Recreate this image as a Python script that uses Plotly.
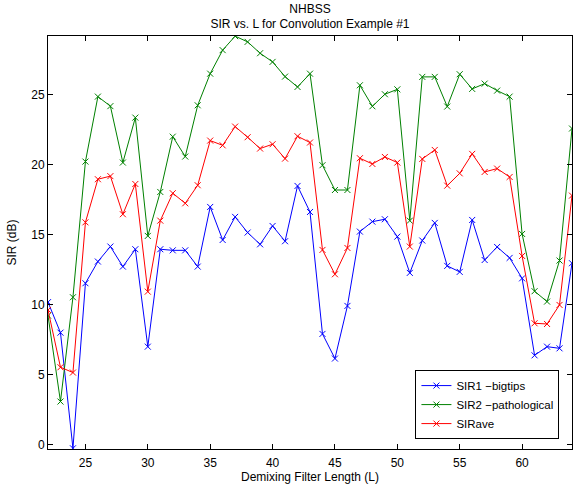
import plotly.graph_objects as go

L = list(range(22, 65))
sir1 = [10.2, 8.02, -0.24, 11.55, 13.1, 14.17, 12.74, 13.98, 7.02, 13.98, 13.9,
        13.9, 12.74, 17.0, 14.64, 16.29, 15.17, 14.33, 15.64, 14.55, 18.5, 16.64,
        7.93, 6.17, 9.93, 15.24, 15.95, 16.12, 14.88, 12.29, 14.6, 15.86,
        12.79, 12.36, 16.07, 13.21, 14.14, 13.36, 11.9, 6.4, 7.02, 6.9, 12.98]
sir2 = [9.24, 3.1, 10.55, 20.24, 24.88, 24.2, 20.17, 23.38, 14.93, 18.07, 22.02,
        20.6, 24.26, 26.52, 28.2, 29.2, 28.79, 27.98, 27.36, 26.31, 25.57, 26.52,
        19.98, 18.21, 18.21, 25.69, 24.19, 25.05, 25.4, 16.02, 26.29, 26.29,
        24.17, 26.48, 25.43, 25.81, 25.31, 24.88, 15.07, 10.98, 10.24, 13.17, 22.6]
sirave = [9.64, 5.55, 5.17, 15.9, 18.98, 19.2, 16.48, 18.64, 10.95, 16.02, 17.98,
          17.26, 18.55, 21.74, 21.4, 22.74, 21.98, 21.17, 21.48, 20.45, 22.05, 21.6,
          13.93, 12.19, 14.07, 20.48, 20.07, 20.57, 20.17, 14.17, 20.43, 21.07,
          18.52, 19.4, 20.79, 19.5, 19.74, 19.14, 13.5, 8.69, 8.64, 10.0, 17.81]

names = ["SIR1 \u2212bigtips", "SIR2 \u2212pathological", "SIRave"]
colors = ["#0000ff", "#008000", "#ff0000"]
xticks = [25, 30, 35, 40, 45, 50, 55, 60]
yticks = [0, 5, 10, 15, 20, 25]

FONT = "Liberation Sans, Arial, Helvetica, sans-serif"

fig = go.Figure()
for y, n, c in zip([sir1, sir2, sirave], names, colors):
    fig.add_trace(go.Scatter(
        x=L, y=y, name=n, mode="lines+markers",
        line=dict(color=c, width=1),
        marker=dict(symbol="x-thin-open", size=6, line=dict(color=c, width=1), color=c),
    ))

axis_common = dict(
    showgrid=False, zeroline=False, showline=True, linecolor="black", linewidth=1,
    mirror="ticks", ticks="inside", ticklen=5, tickcolor="black", tickwidth=1,
    automargin=False,
    tickfont=dict(family=FONT, size=12, color="black"),
)

fig.update_layout(
    width=588, height=485,
    margin=dict(l=48, r=16, t=36, b=36),
    paper_bgcolor="white", plot_bgcolor="white",
    font=dict(family=FONT, size=12, color="black"),
    title=dict(text="NHBSS<br>SIR vs. L for Convolution Example #1",
               xref="paper", x=0.5, xanchor="center", y=0.974, yanchor="middle",
               font=dict(size=12, color="black")),
    xaxis=dict(range=[22, 64], tickvals=xticks, ticklabelstandoff=3,
               title=dict(text="Demixing Filter Length (L)", standoff=0,
                          font=dict(size=12)), **axis_common),
    yaxis=dict(range=[-0.29, 29.21], tickvals=yticks,
               title=dict(text="SIR (dB)", standoff=12, font=dict(size=12)),
               **axis_common),
    legend=dict(x=0.976, y=0.024, xanchor="right", yanchor="bottom",
                bgcolor="white", bordercolor="black", borderwidth=1,
                font=dict(size=11.5), tracegroupgap=0, itemwidth=30),
    showlegend=True,
)

fig.write_html("out.html", config={"displayModeBar": False},
               post_script="document.body.style.margin='0';")
